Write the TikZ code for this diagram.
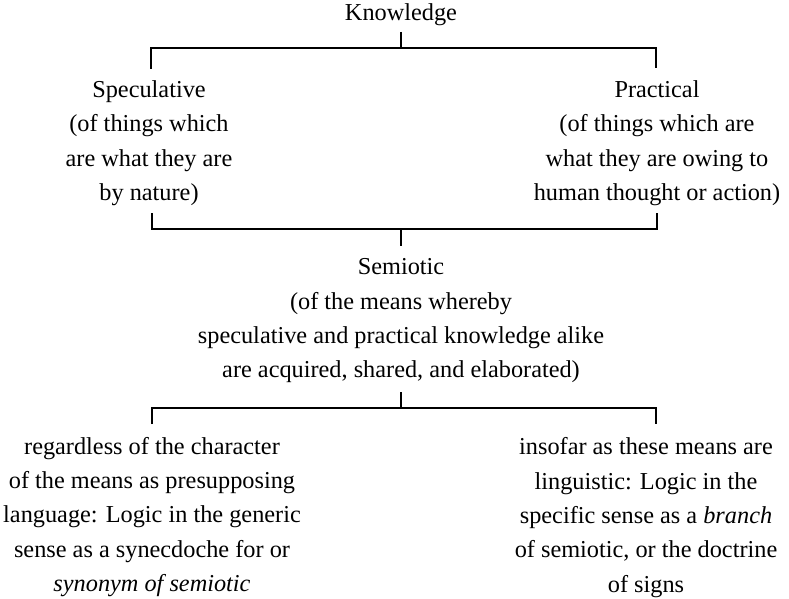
\documentclass[tikz,border=0pt]{standalone}
\usepackage{fontspec}
\setmainfont{Liberation Serif}
\begin{document}
\begin{tikzpicture}[x=1pt, y=-1pt,
  txt/.style={font=\fontsize{24.3}{34.4}\selectfont, align=center, inner sep=0pt, outer sep=0pt},
  brace/.style={line width=1.3pt, line join=miter, draw=black}]
\useasboundingbox (0,0) rectangle (789,599);

% text blocks
\node[txt, anchor=base]  (know) at (401,21) {Knowledge};
\node[txt, anchor=north] (spec) at (149,80.5)
  {Speculative\\(of things which\\are what they are\\by nature)};
\node[txt, anchor=north] (prac) at (657,80.5)
  {Practical\\(of things which are\\what they are owing to\\human thought or action)};
\node[txt, anchor=north] (sem) at (401,258.6)
  {Semiotic\\(of the means whereby\\speculative and practical knowledge alike\\are acquired, shared, and elaborated)};
\node[txt, anchor=north] (gen) at (152,437)
  {regardless of the character\\of the means as presupposing\\language: Logic in the generic\\sense as a synecdoche for or\\\textit{synonym of semiotic}};
\node[txt, anchor=north] (lin) at (646,437.5)
  {insofar as these means are\\linguistic: Logic in the\\specific sense as a \textit{branch}\\of semiotic, or the doctrine\\of signs};

% bracket joints
\coordinate (k0) at (401,32);
\coordinate (k1) at (401,48);
\coordinate (kl) at (151,69);
\coordinate (kr) at (656,68);

\coordinate (sl) at (152,213);
\coordinate (sr) at (657,213);
\coordinate (s1) at (401,229);
\coordinate (s0) at (401,246);

\coordinate (g0) at (401,392);
\coordinate (g1) at (401,408);
\coordinate (gl) at (152,424);
\coordinate (gr) at (656,424);

% Knowledge -> Speculative / Practical
\draw[brace] (k0) -- (k1);
\draw[brace] (kl) -- (kl |- k1) -- (kr |- k1) -- (kr);

% Speculative / Practical -> Semiotic
\draw[brace] (sl) -- (sl |- s1) -- (sr |- s1) -- (sr);
\draw[brace] (s1) -- (s0);

% Semiotic -> the two senses of logic
\draw[brace] (g0) -- (g1);
\draw[brace] (gl) -- (gl |- g1) -- (gr |- g1) -- (gr);
\end{tikzpicture}
\end{document}
